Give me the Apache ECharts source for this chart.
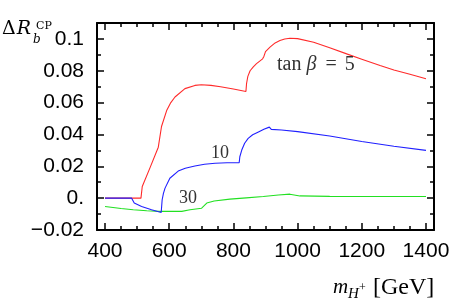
<!DOCTYPE html>
<html>
<head>
<meta charset="utf-8">
<script src="https://cdn.jsdelivr.net/npm/echarts@6/dist/echarts.min.js"></script>
<style>
html,body{margin:0;padding:0;background:#fff;}
#chart{width:456px;height:303px;}
</style>
</head>
<body>
<div id="chart"></div>
<script>
// ---- data ----
const redX   = [400, 512, 516, 540, 566, 576, 592, 605, 618, 649, 680, 700, 730, 760, 800, 839, 841, 845, 852, 862, 872, 891, 895, 900, 914, 930, 945, 960, 976, 1000, 1050, 1100, 1153, 1200, 1257, 1300, 1350, 1400];
const redY   = [0, 0, 0.0073, 0.019, 0.032, 0.045, 0.055, 0.060, 0.0635, 0.0688, 0.0708, 0.0712, 0.0708, 0.0700, 0.0685, 0.0670, 0.0720, 0.0765, 0.0800, 0.0825, 0.0845, 0.0875, 0.0890, 0.0920, 0.0948, 0.0975, 0.0990, 0.1000, 0.1004, 0.1002, 0.0979, 0.0945, 0.0906, 0.0873, 0.0833, 0.0805, 0.0778, 0.0750];
const blueX  = [400, 483, 491, 514, 545, 575, 578, 582, 587, 602, 628, 650, 680, 710, 743, 780, 818, 820, 826, 835, 846, 860, 878, 895, 912, 918, 950, 1000, 1100, 1200, 1300, 1400];
const blueY  = [0, 0, -0.0031, -0.0052, -0.0073, -0.0090, -0.0010, 0.0030, 0.0063, 0.0125, 0.0170, 0.0188, 0.0202, 0.0213, 0.0219, 0.0222, 0.0223, 0.0260, 0.0302, 0.0345, 0.0375, 0.0398, 0.0416, 0.0433, 0.0446, 0.0432, 0.0428, 0.0418, 0.0390, 0.0356, 0.0326, 0.0300];
const greenX = [400, 450, 488, 530, 571, 610, 639, 665, 701, 705, 717, 740, 789, 840, 893, 940, 976, 1007, 1100, 1205, 1300, 1400];
const greenY = [-0.0052, -0.0065, -0.0073, -0.0079, -0.0083, -0.0083, -0.0083, -0.0073, -0.0063, -0.0052, -0.0031, -0.0018, -0.0006, 0.0002, 0.0010, 0.0020, 0.0025, 0.0014, 0.0011, 0.0010, 0.0010, 0.0010];

const xTickValues  = [400, 600, 800, 1000, 1200, 1400];
const xTickLabels  = ['400', '600', '800', '1000', '1200', '1400'];
const xMinorValues = [450, 500, 550, 650, 700, 750, 850, 900, 950, 1050, 1100, 1150, 1250, 1300, 1350];
const yTickValues  = [-0.02, 0, 0.02, 0.04, 0.06, 0.08, 0.1];
const yTickLabels  = ['\u22120.02', '0.', '0.02', '0.04', '0.06', '0.08', '0.1'];
const yMinorValues = [-0.01, 0.01, 0.03, 0.05, 0.07, 0.09];
const curveLabels  = ['tan', 'β', '=', '5', '10', '30'];

const pairs = (xs, ys) => xs.map((x, i) => [x, ys[i]]);
const labelFor = (vals, labs) => v => {
  for (let i = 0; i < vals.length; i++) if (Math.abs(vals[i] - v) < 1e-9) return labs[i];
  return '';
};

const X_MIN = 375, X_MAX = 1425, Y_MIN = -0.02, Y_MAX = 0.11;
const gridBox = {left: 97, top: 23, width: 337, height: 207};

function xAx(grid, pos, vals, len, labels) {
  return {
    type: 'value', gridIndex: grid, position: pos, min: X_MIN, max: X_MAX,
    axisLine: {show: grid === 0, onZero: false, lineStyle: {color: '#000', width: 2}},
    axisTick: {show: true, inside: true, length: len, customValues: vals, lineStyle: {color: '#000', width: 1.5}},
    axisLabel: labels ? {show: true, customValues: xTickValues, formatter: labelFor(xTickValues, xTickLabels),
      fontFamily: 'Liberation Sans', fontSize: 21, color: '#000', margin: 11} : {show: false},
    splitLine: {show: false}
  };
}
function yAx(grid, pos, vals, len, labels) {
  return {
    type: 'value', gridIndex: grid, position: pos, min: Y_MIN, max: Y_MAX,
    axisLine: {show: grid === 0, onZero: false, lineStyle: {color: '#000', width: 2}},
    axisTick: {show: true, inside: true, length: len, customValues: vals, lineStyle: {color: '#000', width: 1.5}},
    axisLabel: labels ? {show: true, customValues: yTickValues, formatter: labelFor(yTickValues, yTickLabels),
      fontFamily: 'Liberation Sans', fontSize: 21, color: '#000', margin: 13} : {show: false},
    splitLine: {show: false}
  };
}

const chart = echarts.init(document.getElementById('chart'), null, {renderer: 'canvas'});
const serif = 'Liberation Serif';
chart.setOption({
  animation: false,
  backgroundColor: '#fff',
  grid: [Object.assign({}, gridBox), Object.assign({}, gridBox)],
  xAxis: [
    xAx(0, 'bottom', xTickValues, 7, true),
    xAx(0, 'top', xTickValues, 7, false),
    xAx(1, 'bottom', xMinorValues, 4, false),
    xAx(1, 'top', xMinorValues, 4, false)
  ],
  yAxis: [
    yAx(0, 'left', yTickValues, 7, true),
    yAx(0, 'right', yTickValues, 7, false),
    yAx(1, 'left', yMinorValues, 4, false),
    yAx(1, 'right', yMinorValues, 4, false)
  ],
  series: [
    {type: 'line', xAxisIndex: 0, yAxisIndex: 0, data: pairs(redX, redY), showSymbol: false, symbol: 'none',
      lineStyle: {color: '#ff2a2a', width: 1.1}, z: 3},
    {type: 'line', xAxisIndex: 0, yAxisIndex: 0, data: pairs(greenX, greenY), showSymbol: false, symbol: 'none',
      lineStyle: {color: '#22e022', width: 1.1}, z: 3},
    {type: 'line', xAxisIndex: 0, yAxisIndex: 0, data: pairs(blueX, blueY), showSymbol: false, symbol: 'none',
      lineStyle: {color: '#2020ff', width: 1.1}, z: 4}
  ],
  graphic: [
    // curve labels
    {type: 'text', x: 277, y: 65, z: 10, style: {
      text: '{n|' + curveLabels[0] + '}{b|' + curveLabels[1] + '}{e|' + curveLabels[2] + '}{f|' + curveLabels[3] + '}',
      verticalAlign: 'middle',
      rich: {
        n: {fontFamily: serif, fontSize: 20, fill: '#333'},
        b: {fontFamily: serif, fontStyle: 'italic', fontSize: 20, fill: '#333', padding: [0, 0, 0, 5]},
        e: {fontFamily: serif, fontSize: 20, fill: '#333', padding: [0, 0, 0, 9]},
        f: {fontFamily: serif, fontSize: 20, fill: '#333', padding: [0, 0, 0, 8]}
      }
    }},
    {type: 'text', x: 211, y: 153, z: 10, style: {text: curveLabels[4], font: '18px "Liberation Serif"', fill: '#333', verticalAlign: 'middle'}},
    {type: 'text', x: 179, y: 198, z: 10, style: {text: curveLabels[5], font: '18px "Liberation Serif"', fill: '#333', verticalAlign: 'middle'}},
    // y axis title
    {type: 'text', x: 2, y: 39, z: 10, style: {
      text: '{d|Δ}{r|R}', verticalAlign: 'bottom',
      rich: {d: {fontFamily: 'DejaVu Serif', fontSize: 19, fill: '#000'}, r: {fontFamily: 'DejaVu Serif', fontStyle: 'italic', fontSize: 19, fill: '#000', padding: [0, 0, 0, 1]}}
    }},
    {type: 'text', x: 33, y: 46, z: 10, style: {text: 'b', font: 'italic 12px "DejaVu Serif"', fill: '#000', verticalAlign: 'bottom'}},
    {type: 'text', x: 36, y: 32, z: 10, style: {text: 'CP', font: '11px "DejaVu Serif"', fill: '#000', verticalAlign: 'bottom'}},
    // x axis title
    {type: 'text', x: 333, y: 298, z: 10, style: {text: 'm', font: 'italic 21px "Liberation Serif"', fill: '#000', verticalAlign: 'bottom'}},
    {type: 'text', x: 348, y: 302, z: 10, style: {text: 'H', font: 'italic 15px "Liberation Serif"', fill: '#000', verticalAlign: 'bottom'}},
    {type: 'text', x: 359, y: 294, z: 10, style: {text: '+', font: '12px "Liberation Serif"', fill: '#000', verticalAlign: 'bottom'}},
    {type: 'text', x: 373, y: 300, z: 10, style: {text: '[GeV]', font: '24px "Liberation Serif"', fill: '#000', verticalAlign: 'bottom'}}
  ]
});
</script>
</body>
</html>
